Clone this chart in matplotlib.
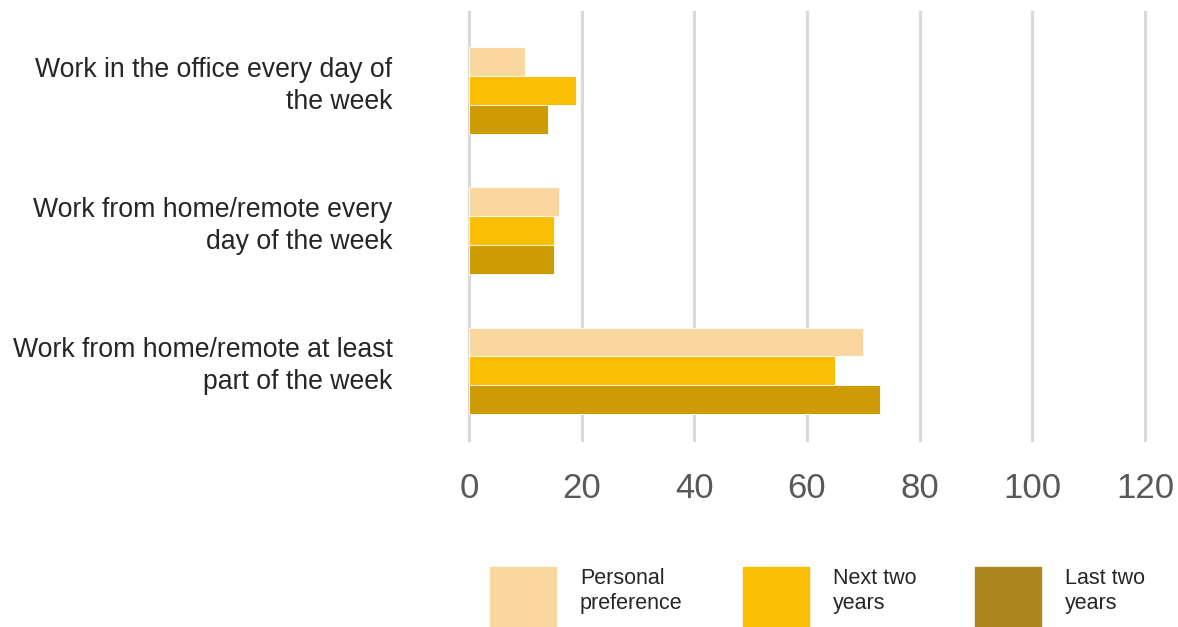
import matplotlib
matplotlib.use("Agg")
import matplotlib.pyplot as plt
from matplotlib.patches import Rectangle
import numpy as np

plt.rcParams['font.family'] = ['Liberation Sans', 'DejaVu Sans']

categories = [
    "Work in the office every day of\nthe week",
    "Work from home/remote every\nday of the week",
    "Work from home/remote at least\npart of the week",
]
series_names = ["Personal\npreference", "Next two\nyears", "Last two\nyears"]
personal_preference = [10, 16, 70]
next_two_years = [19, 15, 65]
last_two_years = [14, 15, 73]
x_ticks = [0, 20, 40, 60, 80, 100, 120]

bar_colors = ["#FBD7A0", "#FABE03", "#CE9B02"]
legend_colors = ["#FBD7A0", "#FABE03", "#AF8520"]

W, H = 1178, 627
fig = plt.figure(figsize=(W / 100, H / 100), dpi=100)
ax = fig.add_axes([469 / W, 1 - 440 / H, (1145 - 469) / W, (440 - 12) / H])

y = np.arange(len(categories))
bh = 0.207
series = [personal_preference, next_two_years, last_two_years]
for i, (vals, col) in enumerate(zip(series, bar_colors)):
    ax.barh(y + (i - 1) * bh, vals, height=bh, color=col,
            edgecolor="white", linewidth=0.6, zorder=3)

ax.set_xlim(0, 120)
ax.set_ylim(2.493, -0.564)
ax.set_xticks(x_ticks)
ax.set_xticklabels([str(t) for t in x_ticks])
# category labels sit slightly above the centre of each bar group
ax.set_yticks(y - 0.079)
ax.set_yticklabels(categories, fontsize=19.2, color="#262626", linespacing=1.32)
for t in ax.get_yticklabels():
    t.set_horizontalalignment("right")

for t in x_ticks:
    ax.axvline(t, color="#D9D9D9", linewidth=2.2, zorder=1, clip_on=False)

ax.tick_params(axis="x", length=0, pad=23, labelsize=25, labelcolor="#595959")
ax.tick_params(axis="y", length=0, pad=55)
for s in ax.spines.values():
    s.set_visible(False)

# legend drawn as figure-level patches and labels
leg_x = [490, 743, 975]
for xl, col, name in zip(leg_x, legend_colors, series_names):
    fig.patches.append(Rectangle((xl / W, 1 - 627 / H), 66 / W, 60 / H,
                                 transform=fig.transFigure, color=col))
    fig.text((xl + 90) / W, 1 - 591 / H, name, fontsize=15.5, color="#262626",
             ha="left", va="center", linespacing=1.19)

fig.savefig("out.png", dpi=100)
